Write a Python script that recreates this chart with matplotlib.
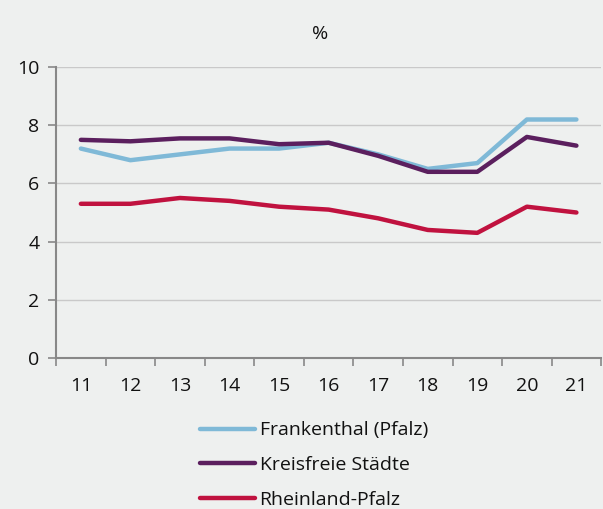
import matplotlib.pyplot as plt
import numpy as np

# Data
years = ["11", "12", "13", "14", "15", "16", "17", "18", "19", "20", "21"]
frankenthal = [7.2, 6.8, 7.0, 7.2, 7.2, 7.4, 7.0, 6.5, 6.7, 8.2, 8.2]
kreisfreie = [7.5, 7.45, 7.55, 7.55, 7.35, 7.4, 6.95, 6.4, 6.4, 7.6, 7.3]
rlp = [5.3, 5.3, 5.5, 5.4, 5.2, 5.1, 4.8, 4.4, 4.3, 5.2, 5.0]

plt.rcParams['font.family'] = ['Open Sans', 'DejaVu Sans']
bg = '#eef0ef'
fs = 14

fig = plt.figure(figsize=(6.03, 5.09), dpi=100, facecolor=bg)
ax = fig.add_axes([0.093, 0.297, 0.904, 0.571], facecolor=bg)

x = np.arange(len(years))
ax.plot(x, frankenthal, color='#7fb9d7', lw=3.2, label='Frankenthal (Pfalz)', solid_capstyle='round')
ax.plot(x, kreisfreie, color='#5b1f5e', lw=3.2, label='Kreisfreie Städte', solid_capstyle='round')
ax.plot(x, rlp, color='#c0123f', lw=3.2, label='Rheinland-Pfalz', solid_capstyle='round')

ax.set_xlim(-0.5, len(years) - 0.5)
ax.set_ylim(0, 10)
ax.set_yticks([0, 2, 4, 6, 8, 10])
ax.grid(axis='y', color='#c9c9c9', lw=1)
ax.set_axisbelow(True)

# ticks between categories, labels at centers
ax.set_xticks(np.arange(-0.5, len(years)), labels=[])
ax.set_xticks(x, labels=years, minor=True)
ax.tick_params(axis='x', which='major', length=6, color='#888888', width=1.2)
ax.tick_params(axis='x', which='minor', length=0, pad=14, labelsize=fs, labelcolor='#111111')
ax.tick_params(axis='y', length=6, color='#888888', width=1.2, labelsize=fs, pad=6,
               labelcolor='#111111')

for s in ['top', 'right']:
    ax.spines[s].set_visible(False)
for s in ['left', 'bottom']:
    ax.spines[s].set_color('#888888')
    ax.spines[s].set_linewidth(1.5)

fig.text(0.531, 0.933, '%', ha='center', va='center', fontsize=fs, color='#111111')

fig.legend(loc='upper left', bbox_to_anchor=(0.332, 0.172), frameon=False,
           fontsize=fs, handlelength=2.8, labelspacing=0.85, borderpad=0,
           borderaxespad=0, handletextpad=0.25, labelcolor='#111111')

fig.savefig('out.png', dpi=100, facecolor=bg)
